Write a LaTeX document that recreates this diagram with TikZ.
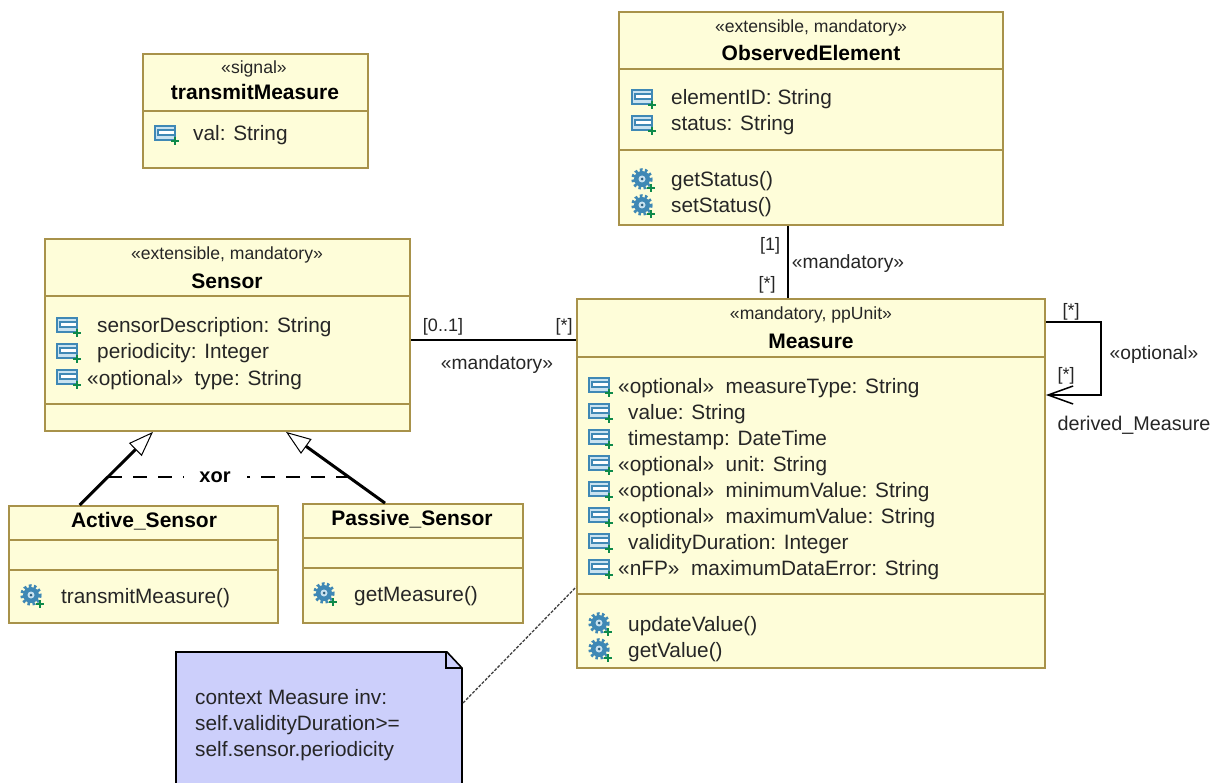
\documentclass[tikz,border=0pt]{standalone}
\usepackage{fontspec}
\setmainfont{Liberation Sans}
\usetikzlibrary{arrows.meta}
\definecolor{boxfill}{HTML}{FEFDD9}
\definecolor{boxedge}{HTML}{A8924A}
\definecolor{notefill}{HTML}{CCCFFB}
\definecolor{iconblue}{HTML}{3F88B5}
\definecolor{iconpale}{HTML}{C9E2F0}
\definecolor{icongreen}{HTML}{0E8A4A}
\definecolor{inktext}{HTML}{262626}
\tikzset{
    classbox/.style={draw=boxedge,fill=boxfill,line width=1.8pt,inner sep=0pt},
    compline/.style={draw=boxedge,line width=1.8pt},
    stereo/.style={font=\fontsize{17.6}{17.6}\selectfont,text=inktext,inner sep=0pt,yshift=-1.5pt},
    classname/.style={font=\fontsize{21}{21}\selectfont\bfseries,text=black,inner sep=0pt},
    rowtext/.style={anchor=base west,inner sep=0pt,yshift=-7pt,text=inktext,font=\fontsize{20.8}{20.8}\selectfont},
    lbl/.style={font=\fontsize{18}{18}\selectfont,text=inktext,inner sep=0pt,yshift=-1.5pt},
    lblwide/.style={font=\fontsize{19.2}{19.2}\selectfont,text=inktext,inner sep=0pt,yshift=-1.5pt},
    assoc/.style={draw=black,line width=1.8pt},
    genline/.style={draw=black,line width=3pt,-{Triangle[open,fill=white,length=25pt,width=18pt,line width=1pt]}},
    attricon/.pic={
        \draw[iconblue,fill=iconpale,line width=1.8pt] (-10,-8) rectangle (10,6);
        \draw[iconblue,fill=white,line width=1.2pt] (-7,-4) rectangle (10,1);
        \draw[icongreen,line width=1.6pt] (10,3) -- (10,11) (6,7) -- (14,7);
    },
    gearicon/.pic={
        \fill[iconblue] (0,-1) circle (8);
        \draw[iconblue,line width=3.5pt,dash pattern=on 2.6pt off 2.4pt] (0,-1) circle (9);
        \fill[iconpale] (0,-1) circle (3.5);
        \fill[iconblue!70!black] (0,-1) circle (1.5);
        \draw[icongreen,line width=1.6pt] (9,4) -- (9,12) (5,8) -- (13,8);
    }
}
\begin{document}
\begin{tikzpicture}[x=1pt,y=-1pt]
    \useasboundingbox (0,0) rectangle (1210,783);
    \fill[white] (0,0) rectangle (1210,783);

    \node[classbox,minimum width=225pt,minimum height=114pt] (transmit) at (255.5,111) {};
    \draw[compline] (transmit.west |- 0,111) -- (transmit.east |- 0,111);
    \node[stereo] (transmitStereo) at (254,67) {«signal»};
    \node[classname] (transmitName) at (255,92) {transmitMeasure};
    \pic at (165,134) {attricon};
    \node[rowtext] (transmitVal) at (193,134) {val: String};

    \node[classbox,minimum width=384pt,minimum height=213pt] (observed) at (811,118.5) {};
    \draw[compline] (observed.west |- 0,69) -- (observed.east |- 0,69);
    \draw[compline] (observed.west |- 0,150) -- (observed.east |- 0,150);
    \node[stereo] (observedStereo) at (811,26) {«extensible, mandatory»};
    \node[classname] (observedName) at (811,53) {ObservedElement};
    \foreach \y/\txt in {98/elementID: String,124/status: String} {
        \pic at (642,\y) {attricon};
        \node[rowtext] (observedrow\y) at (671,\y) {\txt};
    }
    \foreach \y/\txt in {180/getStatus(),206/setStatus()} {
        \pic at (642,\y) {gearicon};
        \node[rowtext] (observedrow\y) at (671,\y) {\txt};
    }

    \node[classbox,minimum width=365pt,minimum height=192pt] (sensor) at (227.5,335) {};
    \draw[compline] (sensor.west |- 0,296) -- (sensor.east |- 0,296);
    \draw[compline] (sensor.west |- 0,404) -- (sensor.east |- 0,404);
    \node[stereo] (sensorStereo) at (227,253) {«extensible, mandatory»};
    \node[classname] (sensorName) at (227,281) {Sensor};
    \foreach \y/\x/\txt in {326/97/sensorDescription: String,352/97/periodicity: Integer,378/87/«optional»~~type: String} {
        \pic at (67,\y) {attricon};
        \node[rowtext] (sensorrow\y) at (\x,\y) {\txt};
    }

    \node[classbox,minimum width=269pt,minimum height=117pt] (active) at (143.75,564.5) {};
    \draw[compline] (active.west |- 0,540) -- (active.east |- 0,540);
    \draw[compline] (active.west |- 0,570) -- (active.east |- 0,570);
    \node[classname] (activeName) at (144,521) {Active\_Sensor};
    \pic at (31,596) {gearicon};
    \node[rowtext] (activeOp) at (61,596) {transmitMeasure()};

    \node[classbox,minimum width=220pt,minimum height=119pt] (passive) at (413,563.5) {};
    \draw[compline] (passive.west |- 0,538) -- (passive.east |- 0,538);
    \draw[compline] (passive.west |- 0,568) -- (passive.east |- 0,568);
    \node[classname] (passiveName) at (412,519) {Passive\_Sensor};
    \pic at (324,594) {gearicon};
    \node[rowtext] (passiveOp) at (354,594) {getMeasure()};

    \node[classbox,minimum width=468pt,minimum height=369pt] (measure) at (811,483.5) {};
    \draw[compline] (measure.west |- 0,357) -- (measure.east |- 0,357);
    \draw[compline] (measure.west |- 0,594) -- (measure.east |- 0,594);
    \node[stereo] (measureStereo) at (811,313) {«mandatory, ppUnit»};
    \node[classname] (measureName) at (811,341) {Measure};
    \foreach \y/\x/\txt in {386/618/«optional»~~measureType: String,412/628/value: String,438/628/timestamp: DateTime,464/618/«optional»~~unit: String,490/618/«optional»~~minimumValue: String,516/618/«optional»~~maximumValue: String,542/628/validityDuration: Integer,568/618/«nFP»~~maximumDataError: String} {
        \pic at (599,\y) {attricon};
        \node[rowtext] (measurerow\y) at (\x,\y) {\txt};
    }
    \foreach \y/\txt in {624/updateValue(),650/getValue()} {
        \pic at (599,\y) {gearicon};
        \node[rowtext] (measurerow\y) at (628,\y) {\txt};
    }

    \draw[assoc] ([xshift=-23pt]observed.south) -- ([xshift=-23pt]measure.north);
    \draw[assoc] ([yshift=-5pt]sensor.east) -- ([yshift=143.5pt]measure.west);
    \coordinate (loopTop) at (1101,322);
    \coordinate (loopBot) at (1101,395);
    \draw[assoc,-{Straight Barb[length=25pt,width=18pt,line width=1.5pt]}] ([yshift=161.5pt]measure.east) -- (loopTop) -- (loopBot) -- ([yshift=88.5pt]measure.east);
    \node[lbl] (obsOne) at (770,244) {[1]};
    \node[lbl] (obsMany) at (767,283) {[*]};
    \node[lblwide] (obsStereo) at (848,262) {«mandatory»};
    \node[lbl] (senseOne) at (443,325) {[0..1]};
    \node[lbl] (senseMany) at (564,325) {[*]};
    \node[lblwide] (senseStereo) at (497,363) {«mandatory»};
    \node[lbl] (loopMany) at (1071,310) {[*]};
    \node[lblwide] (loopStereo) at (1154,353) {«optional»};
    \node[lbl] (loopManyB) at (1066,374) {[*]};
    \node[lblwide,font=\fontsize{19.8}{19.8}\selectfont] (loopRole) at (1134,424) {derived\_Measure};

    \draw[genline] ([xshift=-64pt]active.north) -- ([xshift=-74.5pt]sensor.south);
    \draw[genline] ([xshift=-28pt]passive.north) -- ([xshift=58.5pt]sensor.south);
    \coordinate (xorL) at (108,477);
    \coordinate (xorR) at (350,477);
    \node[font=\fontsize{20}{20}\selectfont\bfseries,inner sep=0pt,inner xsep=16pt] (xorword) at (215,477) {xor};
    \draw[black,line width=1.8pt,dash pattern=on 14pt off 11pt] (xorL) -- (xorword);
    \draw[black,line width=1.8pt,dash pattern=on 14pt off 11pt] (xorR) -- (xorword);

    \draw[black,line width=1.6pt,fill=notefill] (176,652) -- (447,652) -- (462,668) -- (462,795) -- (176,795) -- cycle;
    \draw[black,line width=1.2pt] (446,652) -- (446,668) -- (462,668);
    \node[rowtext] (noteA) at (195,697) {context Measure inv:};
    \node[rowtext] (noteB) at (195,723) {self.validityDuration>=};
    \node[rowtext] (noteC) at (195,749) {self.sensor.periodicity};
    \coordinate (noteEnd) at (463,703);
    \draw[black!75,line width=1.3pt,dash pattern=on 3pt off 1.5pt] (noteEnd) -- ([yshift=-103.5pt]measure.west);
\end{tikzpicture}
\end{document}
